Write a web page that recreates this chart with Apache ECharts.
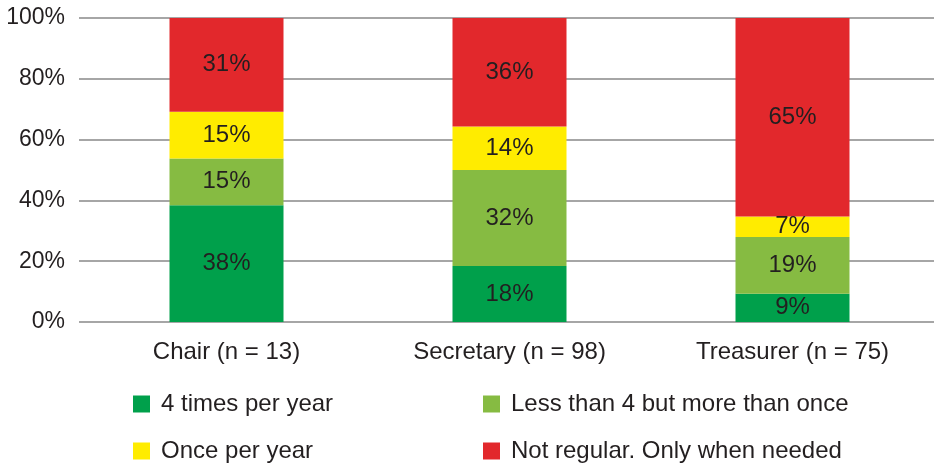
<!DOCTYPE html>
<html><head><meta charset="utf-8">
<script src="https://cdn.jsdelivr.net/npm/echarts@6/dist/echarts.min.js"></script>
<style>html,body{margin:0;padding:0;background:#fff}#c{width:934px;height:463px}</style>
</head><body><div id="c"></div>
<script>
const categories = ['Chair (n = 13)', 'Secretary (n = 98)', 'Treasurer (n = 75)'];
const seriesNames = ['4 times per year', 'Less than 4 but more than once', 'Once per year', 'Not regular. Only when needed'];
const fourTimes = [38.4, 18.4, 9.3];
const lessThan4 = [15.4, 31.6, 18.7];
const oncePerYear = [15.4, 14.3, 6.7];
const notRegular = [30.8, 35.7, 65.3];
const yTicks = [0, 20, 40, 60, 80, 100];
const colors = ['#00A04B', '#86BB42', '#FFEC00', '#E2282C'];

const font = "'Liberation Sans', Arial, sans-serif";
const values = [fourTimes, lessThan4, oncePerYear, notRegular];
const chart = echarts.init(document.getElementById('c'));
const legendPos = [[128, 387], [478, 387], [128, 434], [478, 434]];
chart.setOption({
  animation: false,
  grid: {left: 85, right: 0, top: 18, bottom: 141},
  xAxis: {
    type: 'category', data: categories,
    axisLine: {show: false}, axisTick: {show: false},
    axisLabel: {color: '#231F20', fontSize: 24, fontFamily: font, margin: 18}
  },
  yAxis: {
    type: 'value', min: yTicks[0], max: yTicks[yTicks.length - 1], interval: 20,
    axisLine: {show: false},
    axisTick: {show: true, length: 6, lineStyle: {color: '#A6A6A6', width: 2}},
    splitLine: {lineStyle: {color: '#A6A6A6', width: 2}},
    axisLabel: {color: '#231F20', fontSize: 23, fontFamily: font, margin: 20, formatter: v => v + '%'}
  },
  legend: legendPos.map((p, i) => ({
    data: [seriesNames[i]], left: p[0], top: p[1],
    itemWidth: 17, itemHeight: 17, itemGap: 0,
    icon: 'rect',
    textStyle: {color: '#231F20', fontSize: 24, fontFamily: font, padding: [0, 0, 0, 6]}
  })),
  series: seriesNames.map((n, i) => ({
    name: n, type: 'bar', stack: 'a', barWidth: 114,
    data: values[i],
    itemStyle: {color: colors[i]},
    label: {
      show: true, position: 'inside', color: '#231F20', fontSize: 24, fontFamily: font,
      formatter: p => Math.round(p.value) + '%'
    }
  }))
});
</script></body></html>
